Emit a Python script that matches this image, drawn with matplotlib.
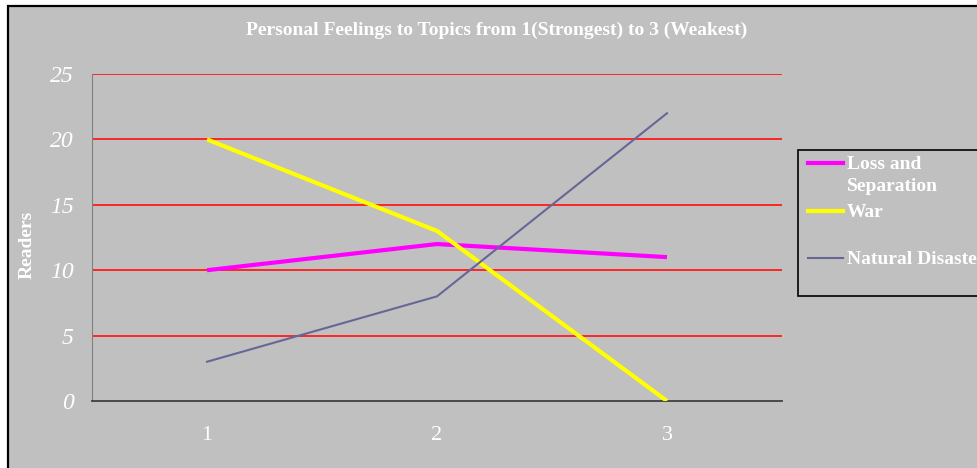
import matplotlib
matplotlib.use("Agg")
import matplotlib.pyplot as plt
from matplotlib.patches import Rectangle
from matplotlib.lines import Line2D

plt.rcParams['font.family'] = ['Liberation Serif', 'DejaVu Serif']

categories = [1, 2, 3]
loss_sep = [10, 12, 11]
war = [20, 13, 0]
natural = [3, 8, 22]
series_names = ["Loss and\nSeparation", "War", "Natural Disaster"]
yticks = [0, 5, 10, 15, 20, 25]

W, H = 978, 468
fig = plt.figure(figsize=(W / 100, H / 100), dpi=100)
fig.patch.set_facecolor('white')

# chart frame (only left and top edges are visible)
frame = Rectangle((8 / W, -0.1), 1.2, 1 - 6 / H + 0.1, transform=fig.transFigure,
                  facecolor='#c0c0c0', edgecolor='black', linewidth=1.6, zorder=-10)
fig.patches.append(frame)

ax = fig.add_axes([92 / W, (H - 401) / H, 690 / W, 327 / H])
ax.set_zorder(1)
ax.set_facecolor('#c0c0c0')

ax.plot(categories, loss_sep, color='#ff00ff', lw=3, solid_capstyle='butt', zorder=3)
ax.plot(categories, war, color='#ffff00', lw=3, solid_capstyle='butt', zorder=3)
ax.plot(categories, natural, color='#666699', lw=1.5, zorder=3)

ax.set_xlim(0.5, 3.5)
ax.set_ylim(0, 25)
ax.set_yticks(yticks)
ax.set_xticks(categories)
ax.grid(axis='y', color='#ff1a1a', lw=1.3)
ax.set_axisbelow(True)
ax.yaxis.get_gridlines()[0].set_visible(False)
for s in ['top', 'right']:
    ax.spines[s].set_visible(False)
ax.spines['left'].set_color('#808080')
ax.spines['bottom'].set_color('#404040')
ax.spines['bottom'].set_linewidth(1.3)
ax.tick_params(length=0)
ax.tick_params(axis='y', pad=13, labelsize=17, labelcolor='white')
ax.tick_params(axis='x', pad=18, labelsize=16, labelcolor='white')
for t in ax.get_yticklabels():
    t.set_fontstyle('italic')

fig.text(497 / W, 1 - 30 / H, "Personal Feelings to Topics from 1(Strongest) to 3 (Weakest)",
         ha='center', va='center', color='white', fontsize=14, fontweight='bold')
fig.text(27 / W, 1 - 245 / H, "Readers", rotation=90, ha='center', va='center',
         color='white', fontsize=14, fontweight='bold')

# legend box
leg = Rectangle((798 / W, 1 - 296 / H), 0.5, 146 / H, transform=fig.transFigure,
                facecolor='#c0c0c0', edgecolor='black', linewidth=1.2, zorder=1)
fig.patches.append(leg)
colors = ['#ff00ff', '#ffff00', '#666699']
widths = [3, 3, 1.5]
ys = [163, 211, 258]
for name, c, lw, y in zip(series_names, colors, widths, ys):
    fig.lines.append(Line2D([808 / W, 843 / W], [1 - y / H, 1 - y / H], transform=fig.transFigure,
                            color=c, lw=lw, zorder=2))
    fig.text(847 / W, 1 - (y - 7) / H, name, ha='left', va='top', color='white',
             fontsize=14, fontweight='bold', linespacing=1.38)

fig.savefig("out.png", dpi=100)
